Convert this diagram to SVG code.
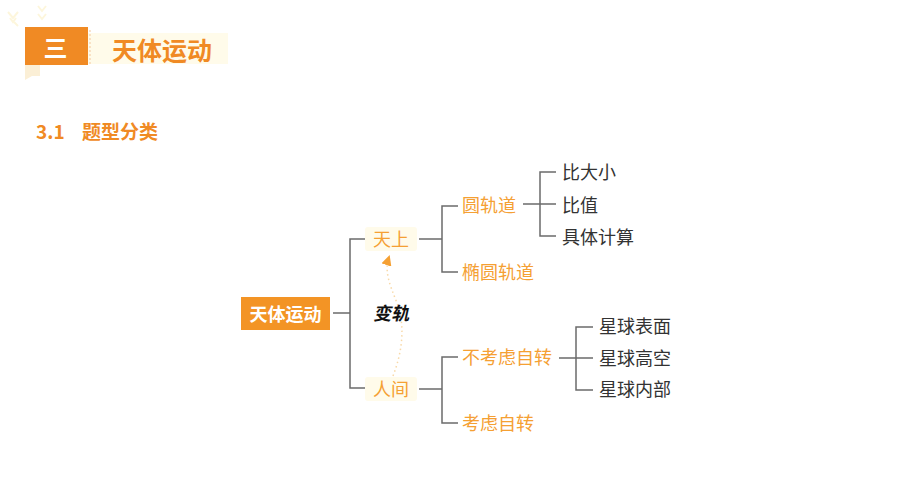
<svg xmlns="http://www.w3.org/2000/svg" width="921" height="485" viewBox="0 0 921 485">
<defs>
<style>
.ln{fill:none;stroke:#6b6b6b;stroke-width:1.5}
.or{font-family:"Noto Sans CJK SC","Noto Sans",sans-serif;font-size:18px;fill:#F5A033;dominant-baseline:central}
.dk{font-family:"Noto Sans CJK SC","Noto Sans",sans-serif;font-size:18px;fill:#333;dominant-baseline:central}
.bg{fill:#FFFBEA}
</style>
<marker id="ah" viewBox="0 0 10 10" refX="8" refY="5" markerWidth="7" markerHeight="7" orient="auto-start-reverse">
<path d="M0,0 L10,5 L0,10 z" fill="#F5A033"/>
</marker>
</defs>
<rect width="921" height="485" fill="#fff"/>
<g id="header">
<g fill="none" stroke="#FDF6DC" stroke-width="2">
<path d="M8,12 l5,6 l5,-6 M10,18 l3,4 l3,-4"/>
<path d="M38,6 l4,5 l4,-5 M38,14 l4,5 l4,-5"/>
<path d="M14,22 l4,4"/>
</g>
<rect x="88" y="33" width="140" height="31" fill="#FFFBEA"/>
<line x1="90" y1="30" x2="90" y2="66" stroke="#F3C9A0" stroke-width="1" stroke-dasharray="2,2"/>
<path d="M25,65 L25,80 L32,76 L40,76 L40,65 z" fill="#FBEFD6"/>
<rect x="25" y="27" width="63" height="38" fill="#F08A24"/>
<text x="55.5" y="46.5" text-anchor="middle" font-family="'Noto Sans CJK SC',sans-serif" font-size="24" font-weight="bold" fill="#fff" dominant-baseline="central">三</text>
<text x="112" y="49" font-family="'Noto Sans CJK SC',sans-serif" font-size="25" font-weight="bold" fill="#F08A24" dominant-baseline="central">天体运动</text>
<text x="36" y="130" font-family="'Noto Sans CJK SC',sans-serif" font-size="19" font-weight="bold" fill="#F08A24" dominant-baseline="central">3.1<tspan x="82">题型分类</tspan></text>
</g>
<g id="connectors">
<path class="ln" d="M333,313 H350 M368,239 H350 V388 H368"/>
<path class="ln" d="M419,239 H442 M458,206 H442 V272 H458"/>
<path class="ln" d="M523,204 H556 M556,172 H540 V236 H556"/>
<path class="ln" d="M419,389 H442 M458,357 H442 V423 H458"/>
<path class="ln" d="M559,358 H593 M593,327 H576 V390 H593"/>
<path d="M393,376 C403,350 405,325 397,303 C390,285 384,272 389,257" fill="none" stroke="#F8D9A8" stroke-width="1.5" stroke-dasharray="1.5,3" marker-end="url(#ah)"/>
</g>
<g id="n-root">
<rect x="241" y="297" width="89" height="33" fill="#F39425"/>
<text x="285.5" y="313" text-anchor="middle" font-family="'Noto Sans CJK SC',sans-serif" font-size="18" font-weight="bold" fill="#fff" dominant-baseline="central">天体运动</text>
</g>
<g id="n-tianshang">
<rect class="bg" x="365" y="227" width="52" height="24" rx="3"/>
<text class="or" x="373" y="238">天上</text>
</g>
<g id="n-renjian">
<rect class="bg" x="365" y="377" width="52" height="24" rx="3"/>
<text class="or" x="373" y="388">人间</text>
</g>
<g id="n-biangui" transform="translate(375,312) skewX(-12)">
<text x="0" y="0" font-family="'Noto Sans CJK SC',sans-serif" font-size="18" font-weight="bold" fill="#111" dominant-baseline="central">变轨</text>
</g>
<g id="n-yuan"><text class="or" x="462" y="204">圆轨道</text></g>
<g id="n-tuoyuan"><text class="or" x="462" y="271">椭圆轨道</text></g>
<g id="n-bidaxiao"><text class="dk" x="562" y="171">比大小</text></g>
<g id="n-bizhi"><text class="dk" x="562" y="204">比值</text></g>
<g id="n-jisuan"><text class="dk" x="562" y="236">具体计算</text></g>
<g id="n-bukaolv"><text class="or" x="462" y="356">不考虑自转</text></g>
<g id="n-kaolv"><text class="or" x="462" y="422">考虑自转</text></g>
<g id="n-biaomian"><text class="dk" x="599" y="325">星球表面</text></g>
<g id="n-gaokong"><text class="dk" x="599" y="357">星球高空</text></g>
<g id="n-neibu"><text class="dk" x="599" y="388">星球内部</text></g>
</svg>
